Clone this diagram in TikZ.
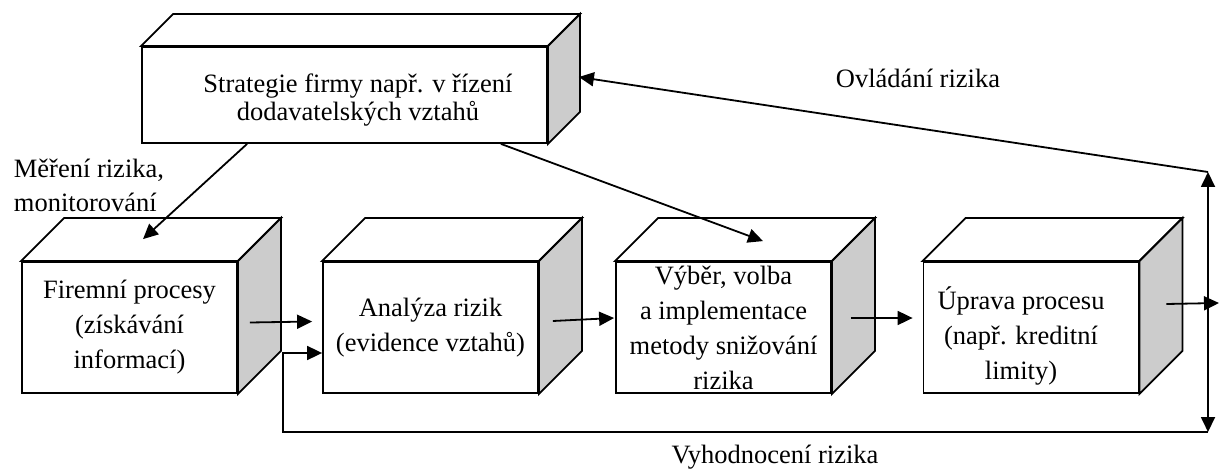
\documentclass[tikz,border=0pt]{standalone}
\usepackage{fontspec}
\setmainfont{Liberation Serif}
\usetikzlibrary{arrows.meta}

\begin{document}
\begin{tikzpicture}[x=0.5pt,y=-0.5pt,line width=0.9pt,>={Triangle[length=7.5pt,width=7pt]},
		face/.style={draw,fill=white,inner sep=0pt,align=center,minimum width=107.5pt,minimum height=65.5pt,font=\fontsize{13.25}{17.5}\selectfont},
		txt/.style={inner sep=0pt,font=\fontsize{13.25}{17}\selectfont}]
	\useasboundingbox (0,0) rectangle (1220,470);
	\node[face,minimum width=202.5pt,minimum height=48pt] (firm) at (344.5,95) {};
	\node[txt,align=center,anchor=north,font=\fontsize{13.25}{14}\selectfont] (firmtext) at (358,72.5) {Strategie firmy např. v řízení\\dodavatelských vztahů};
	\node[face] (proc) at (129.5,327.5) {Firemní procesy\\(získávání\\informací)};
	\node[face] (anal) at (430.5,327.5) {Analýza rizik\\(evidence vztahů)};
	\node[face] (vyber) at (723.5,327.5) {Výběr, volba\\a implementace\\metody snižování\\rizika};
	\node[face] (uprava) at (1031,327.5) {};
	\node[txt,align=center,font=\fontsize{13.25}{17.5}\selectfont] (upravatext) at ([shift={(-5pt,-4pt)}]uprava.center) {Úprava procesu\\(např. kreditní\\limity)};
	\foreach \n/\d in {firm/16pt,proc/21.5pt,anal/21.5pt,vyber/21.5pt,uprava/21.5pt} {
		\draw[fill=white] (\n.north west) -- ++(\d,\d) -- ([shift={(\d,\d)}]\n.north east) -- (\n.north east) -- cycle;
		\draw[fill=gray!40] (\n.north east) -- ++(\d,\d) -- ([shift={(\d,\d)}]\n.south east) -- (\n.south east) -- cycle;
	}
	\node[txt,align=left,anchor=north west] (meas) at (13,158) {Měření rizika,\\monitorování};
	\node[txt,anchor=base] (ctrl) at (918,88) {Ovládání rizika};
	\node[txt,anchor=base] (eval) at (775,463) {Vyhodnocení rizika};
	\coordinate (rt) at (1208,172);
	\coordinate (rb) at (1208,432);
	\coordinate (exit) at (1219,303);
	\draw[<->] (rt) -- (rb);
	\draw[->] (rt) -- ([shift={(15.5pt,9pt)}]firm.east);
	\draw[->] ([xshift=53pt]firm.south west) -- ([shift={(6.75pt,11pt)}]proc.north);
	\draw[->] ([xshift=-23.5pt]firm.south east) -- ([shift={(19.75pt,10pt)}]vyber.north);
	\draw[->] ([shift={(6pt,2.5pt)}]proc.east) -- ([shift={(-5pt,3pt)}]anal.west);
	\draw[->] (rb) -| ([shift={(22.5pt,-12.75pt)}]proc.east) -- ([yshift=-12.75pt]anal.west);
	\draw[->] ([shift={(7pt,3.25pt)}]anal.east) -- ([shift={(-0.5pt,4.75pt)}]vyber.west);
	\draw[->] ([shift={(9.5pt,4.75pt)}]vyber.east) -- ([shift={(-5pt,4.75pt)}]uprava.west);
	\draw[->] ([shift={(13.5pt,11.75pt)}]uprava.east) -- (exit);
\end{tikzpicture}
\end{document}
